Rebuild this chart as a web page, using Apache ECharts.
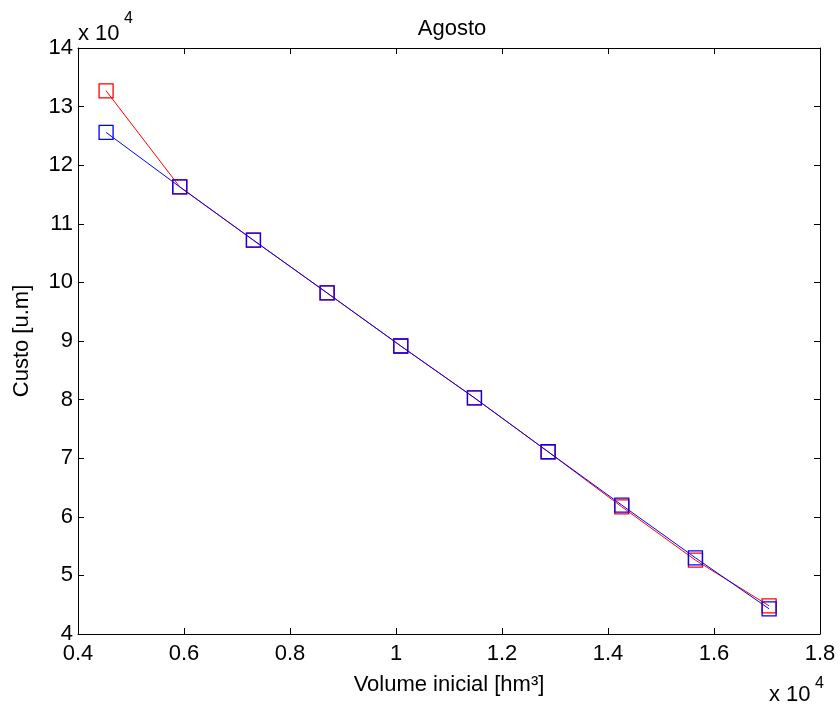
<!DOCTYPE html>
<html><head><meta charset="utf-8">
<script src="https://cdn.jsdelivr.net/npm/echarts@6/dist/echarts.min.js"></script>
<style>html,body{margin:0;padding:0;background:#fff}#c{width:840px;height:704px}</style>
</head><body><div id="c"></div>
<script>
const volumes = [4530, 5920, 7310, 8700, 10090, 11480, 12870, 14260, 15650, 17040];
const redCost = [132700, 116300, 107200, 98200, 89150, 80300, 71100, 61700, 52600, 44800];
const blueCost = [125600, 116300, 107200, 98200, 89150, 80300, 71100, 62000, 53000, 44300];
const xTicks = [0.4, 0.6, 0.8, 1, 1.2, 1.4, 1.6, 1.8];
const yTicks = [4, 5, 6, 7, 8, 9, 10, 11, 12, 13, 14];

const font = 'Liberation Sans, Arial, sans-serif';
const FS = 22;
const chart = echarts.init(document.getElementById('c'));
const fmt = v => String(Math.round(v / 1000) / 10);
const axisBase = {
  type: 'value',
  axisLine: { show: true, lineStyle: { color: '#000', width: 1 } },
  axisTick: { show: true, inside: true, length: 6, lineStyle: { color: '#000' } },
  splitLine: { show: false },
};
chart.setOption({
  backgroundColor: '#fff',
  animation: false,
  title: { text: 'Agosto', left: 447, top: 13, textAlign: 'center',
    textStyle: { fontFamily: font, fontSize: FS, fontWeight: 'normal', color: '#000' } },
  grid: { left: 78, top: 48, right: 20, bottom: 70 },
  xAxis: [
    Object.assign({}, axisBase, { min: 4000, max: 18000, interval: 2000, position: 'bottom',
      name: 'Volume inicial [hm³]', nameLocation: 'middle', nameGap: 40,
      nameTextStyle: { fontFamily: font, fontSize: FS, color: '#000' },
      axisLabel: { formatter: fmt, fontFamily: font, fontSize: FS, color: '#000', margin: 9 } }),
    Object.assign({}, axisBase, { min: 4000, max: 18000, interval: 2000, position: 'top',
      axisLabel: { show: false } })
  ],
  yAxis: [
    Object.assign({}, axisBase, { min: 40000, max: 140000, interval: 10000, position: 'left',
      name: 'Custo [u.m]', nameLocation: 'middle', nameGap: 45,
      nameTextStyle: { fontFamily: font, fontSize: FS, color: '#000' },
      axisLabel: { formatter: fmt, fontFamily: font, fontSize: FS, color: '#000', margin: 5 } }),
    Object.assign({}, axisBase, { min: 40000, max: 140000, interval: 10000, position: 'right',
      axisLabel: { show: false } })
  ],
  series: [
    { type: 'line', data: volumes.map((v, i) => [v, redCost[i]]), symbol: 'rect', symbolSize: 14,
      lineStyle: { color: '#ff0000', width: 1 },
      itemStyle: { color: 'rgba(0,0,0,0)', borderColor: '#ff0000', borderWidth: 1.3 } },
    { type: 'line', data: volumes.map((v, i) => [v, blueCost[i]]), symbol: 'rect', symbolSize: 14,
      lineStyle: { color: '#0000ff', width: 1 },
      itemStyle: { color: 'rgba(0,0,0,0)', borderColor: '#0000ff', borderWidth: 1.3 } }
  ],
  graphic: [
    { type: 'text', x: 78, y: 45, style: { text: 'x 10', font: FS + 'px ' + font, fill: '#000', verticalAlign: 'bottom' } },
    { type: 'text', x: 124, y: 11, style: { text: '4', font: '16px ' + font, fill: '#000', verticalAlign: 'top' } },
    { type: 'text', x: 769, y: 706, style: { text: 'x 10', font: FS + 'px ' + font, fill: '#000', verticalAlign: 'bottom' } },
    { type: 'text', x: 815, y: 676, style: { text: '4', font: '16px ' + font, fill: '#000', verticalAlign: 'top' } }
  ]
});
</script></body></html>
